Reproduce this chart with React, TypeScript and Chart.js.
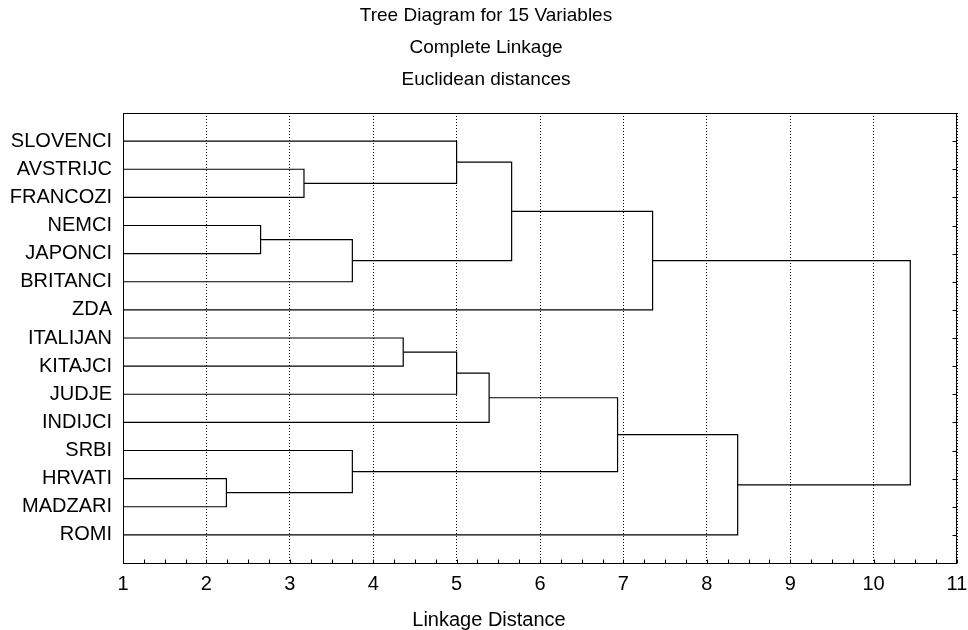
import React, { useEffect, useRef } from "react";
import { Chart, registerables } from "chart.js";

Chart.register(...registerables);

// ---- data ----
const titleLines = ["Tree Diagram for 15 Variables", "Complete Linkage", "Euclidean distances"];
const xAxisTitle = "Linkage Distance";

const leaves = [
  "SLOVENCI", "AVSTRIJC", "FRANCOZI", "NEMCI", "JAPONCI", "BRITANCI", "ZDA",
  "ITALIJAN", "KITAJCI", "JUDJE", "INDIJCI", "SRBI", "HRVATI", "MADZARI", "ROMI",
];

// merge k creates cluster "C" + k
const mergeLeft = ["NEMCI", "HRVATI", "AVSTRIJC", "C0", "SRBI", "ITALIJAN", "SLOVENCI", "C5", "C7", "C6", "C8", "C9", "C10", "C11"];
const mergeRight = ["JAPONCI", "MADZARI", "FRANCOZI", "BRITANCI", "C1", "KITAJCI", "C2", "JUDJE", "INDIJCI", "C3", "C4", "ZDA", "ROMI", "C12"];
const mergeHeight = [2.65, 2.24, 3.17, 3.75, 3.75, 4.36, 5.0, 5.0, 5.39, 5.66, 6.93, 7.35, 8.37, 10.44];

const xMin = 1;
const xMax = 11;
const xTickLabels = ["1", "2", "3", "4", "5", "6", "7", "8", "9", "10", "11"];

// ---- style ----
const FONT = '"Liberation Sans", Arial, Helvetica, sans-serif';

function buildLinks() {
  const pos: Record<string, { y: number; h: number }> = {};
  leaves.forEach((n, i) => (pos[n] = { y: i + 1, h: xMin }));
  return mergeHeight.map((h, k) => {
    const a = pos[mergeLeft[k]];
    const b = pos[mergeRight[k]];
    pos["C" + k] = { y: (a.y + b.y) / 2, h };
    return [
      { x: a.h, y: a.y },
      { x: h, y: a.y },
      { x: h, y: b.y },
      { x: b.h, y: b.y },
    ];
  });
}

const framePlugin = {
  id: "frameAndText",
  afterDraw(chart: any) {
    const { ctx, chartArea, scales } = chart;
    const xs = scales.x;
    const ys = scales.y;
    ctx.save();
    ctx.strokeStyle = "#000";
    ctx.lineWidth = 1;
    ctx.setLineDash([]);
    const l = Math.round(chartArea.left) + 0.5;
    const t = Math.round(chartArea.top) + 0.5;
    const r = Math.round(chartArea.right) - 0.5;
    const b = Math.round(chartArea.bottom) + 0.5;
    ctx.strokeRect(l, t, r - l, b - t);
    // minor ticks on bottom (inside)
    ctx.beginPath();
    for (let v = xMin; v <= xMax + 1e-9; v += 0.25) {
      const px = Math.round(xs.getPixelForValue(v)) + 0.5;
      ctx.moveTo(px, b);
      ctx.lineTo(px, b - 4);
    }
    // ticks on right side (inside) at each leaf row
    leaves.forEach((_, i) => {
      const py = Math.round(ys.getPixelForValue(i + 1)) + 0.5;
      ctx.moveTo(r, py);
      ctx.lineTo(r - 4, py);
    });
    ctx.stroke();

    // titles
    ctx.fillStyle = "#000";
    ctx.textAlign = "center";
    ctx.textBaseline = "alphabetic";
    ctx.font = "19px " + FONT;
    titleLines.forEach((s, i) => ctx.fillText(s, 486, 21 + i * 32));
    ctx.font = "20px " + FONT;
    ctx.fillText(xAxisTitle, 489, 625.5);
    ctx.restore();
  },
};

export default function App() {
  const ref = useRef<HTMLCanvasElement | null>(null);

  useEffect(() => {
    if (!ref.current) return;
    const links = buildLinks();
    const chart = new Chart(ref.current, {
      type: "scatter",
      data: {
        datasets: links.map((pts) => ({
          data: pts,
          showLine: true,
          borderColor: "#000",
          borderWidth: 1.2,
          pointRadius: 0,
          pointHoverRadius: 0,
          tension: 0,
          fill: false,
        })),
      },
      options: {
        animation: false,
        responsive: false,
        devicePixelRatio: 1,
        layout: { padding: { top: 113, right: 11, left: 0, bottom: 0 } },
        plugins: {
          legend: { display: false },
          tooltip: { enabled: false },
          title: { display: false },
        },
        scales: {
          x: {
            type: "linear",
            position: "bottom",
            min: xMin,
            max: xMax,
            ticks: {
              stepSize: 1,
              autoSkip: false,
              maxRotation: 0,
              padding: 9,
              color: "#000",
              font: { family: FONT, size: 20 },
              callback: (v: any) => xTickLabels[Math.round(Number(v)) - xMin] ?? "",
            },
            grid: { color: "#000", lineWidth: 1, drawTicks: false },
            border: { display: false, dash: [1, 2] },
            afterFit: (s: any) => {
              s.height = 67;
              s.paddingLeft = 0;
              s.paddingRight = 0;
            },
          },
          y: {
            type: "linear",
            reverse: true,
            min: 0,
            max: 16,
            ticks: {
              stepSize: 1,
              autoSkip: false,
              padding: 11,
              color: "#000",
              font: { family: FONT, size: 20 },
              callback: (v: any) => leaves[Math.round(Number(v)) - 1] ?? "",
            },
            grid: { display: false, drawTicks: false },
            border: { display: false },
            afterFit: (s: any) => {
              s.width = 123;
              s.paddingTop = 0;
              s.paddingBottom = 0;
            },
          },
        },
      } as any,
      plugins: [framePlugin],
    });
    return () => chart.destroy();
  }, []);

  return (
    <div style={{ position: "fixed", left: 0, top: 0, width: 968, height: 630, background: "#fff" }}>
      <canvas ref={ref} width={968} height={630} style={{ display: "block" }} />
    </div>
  );
}
